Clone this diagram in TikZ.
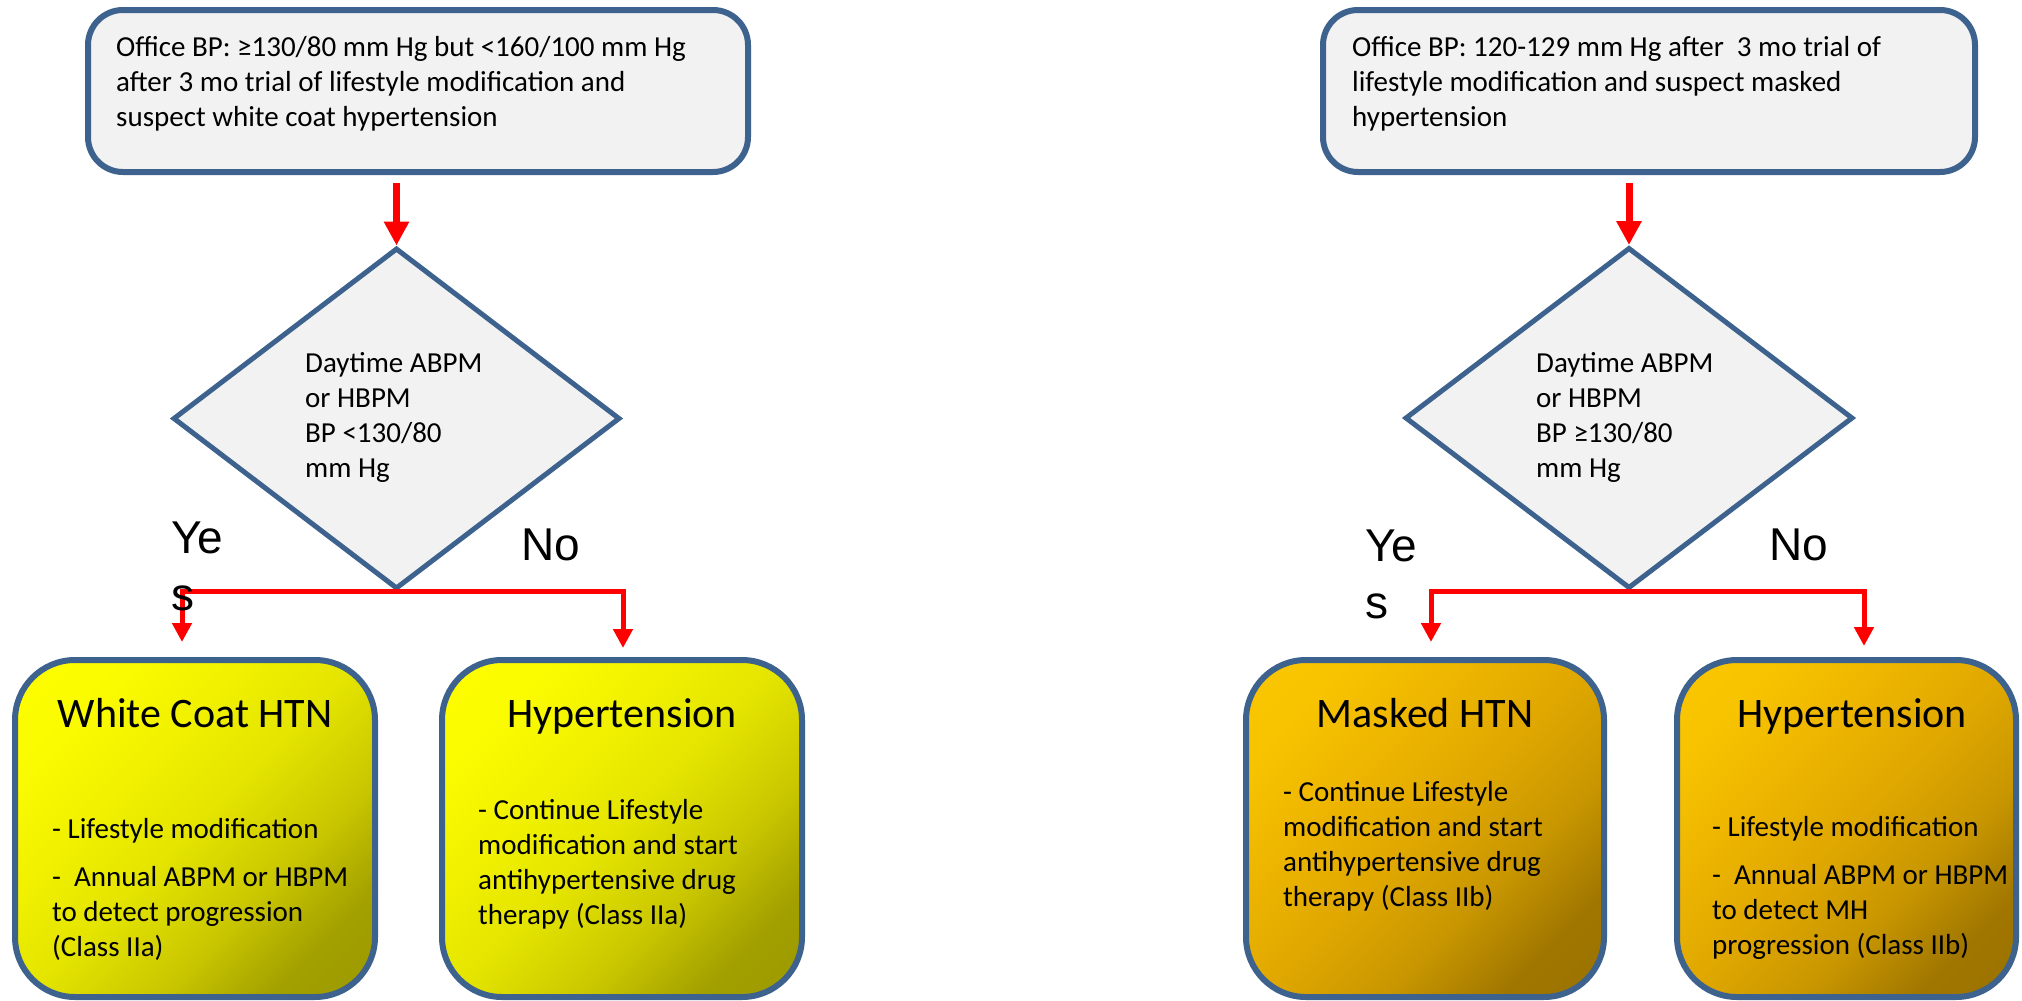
\documentclass[tikz,border=0pt]{standalone}
\usepackage{fontspec}
\setmainfont{Carlito}
\newfontfamily\labelfont{Liberation Sans}
\usetikzlibrary{shapes.geometric,arrows.meta}
\definecolor{edge}{HTML}{3E628E}
\definecolor{panel}{HTML}{F2F2F2}
\definecolor{arrowred}{HTML}{FF0000}
% diagonal fills of the outcome boxes (0bp = dark corner, 100bp = bright corner)
\pgfdeclareverticalshading{yellowgrad}{100bp}{%
  color(0bp)=(rgb,255:red,150;green,146;blue,0);
  color(25bp)=(rgb,255:red,162;green,159;blue,0);
  color(37bp)=(rgb,255:red,202;green,199;blue,0);
  color(50bp)=(rgb,255:red,228;green,228;blue,0);
  color(62bp)=(rgb,255:red,241;green,241;blue,0);
  color(75bp)=(rgb,255:red,252;green,252;blue,0);
  color(100bp)=(rgb,255:red,255;green,255;blue,0)}
\pgfdeclareverticalshading{goldgrad}{100bp}{%
  color(0bp)=(rgb,255:red,150;green,110;blue,0);
  color(25bp)=(rgb,255:red,160;green,118;blue,0);
  color(37bp)=(rgb,255:red,200;green,150;blue,0);
  color(50bp)=(rgb,255:red,224;green,168;blue,0);
  color(62bp)=(rgb,255:red,237;green,181;blue,0);
  color(75bp)=(rgb,255:red,248;green,196;blue,0);
  color(100bp)=(rgb,255:red,252;green,200;blue,0)}
\begin{document}
\begin{tikzpicture}[x=1pt,y=-1pt,
  bodytext/.style={font=\fontsize{29}{35}\selectfont, inner sep=0pt, anchor=base west, align=left},
  titletext/.style={font=\fontsize{42}{50}\selectfont, inner sep=0pt, anchor=base},
  branchlabel/.style={font=\labelfont\fontsize{46}{57}\selectfont, inner sep=0pt, anchor=base west, align=left},
  querybox/.style={draw=edge, line width=6pt, fill=panel, rounded corners=35pt, minimum height=162pt, inner sep=0pt},
  decision/.style={diamond, draw=edge, line width=5pt, fill=panel, inner sep=0pt, minimum width=447pt, minimum height=341pt},
  outcome/.style={draw=edge, line width=6pt, rounded corners=60pt, minimum height=337pt, inner sep=0pt},
  yellowfill/.style={shade, shading=yellowgrad, shading angle=45},
  goldfill/.style={shade, shading=goldgrad, shading angle=45},
  mainarrow/.style={draw=arrowred, line width=7pt, -{Triangle[width=24pt,length=24pt]}},
  brancharrow/.style={draw=arrowred, line width=5pt, -{Triangle[width=19pt,length=19pt]}},
]
\useasboundingbox (0,0) rectangle (2022,1001);

% multi-line text nodes are anchored at the baseline of their last line

% ---------- white coat branch (left) ----------
\node[querybox, minimum width=660pt] (ql) at (418,91) {};
\node[bodytext] (qlt) at (116,126) {Office BP: ≥130/80 mm Hg but <160/100 mm Hg\\after 3 mo trial of lifestyle modification and\\suspect white coat hypertension};

\node[decision] (dl) at (396.5,418.5) {};
\node[bodytext] (dlt) at (305,477) {Daytime ABPM\\or HBPM\\BP <130/80\\mm Hg};

\node[outcome, yellowfill, minimum width=360pt] (b1) at (195,828.5) {};
\node[outcome, yellowfill, minimum width=360pt] (b2) at (622,828.5) {};
\node[titletext] (t1) at (195,727) {White Coat HTN};
\node[titletext] (t2) at (622,727) {Hypertension};
\node[bodytext] (x1) at (52,956) {- Lifestyle modification\\[13pt]-~ Annual ABPM or HBPM\\to detect progression\\(Class IIa)};
\node[bodytext] (x2) at (478,924) {- Continue Lifestyle\\modification and start\\antihypertensive drug\\therapy (Class IIa)};

\coordinate (l-yes) at (182,642);
\coordinate (l-no) at (623,648);
\draw[mainarrow, shorten <=8pt] (dl.north |- ql.south) -- (dl.north);
\draw[brancharrow] (dl.south) -| (l-yes);
\draw[brancharrow] (dl.south) -| (l-no);

\node[branchlabel] (yl) at (171,610) {Ye\\s};
\node[branchlabel] (nl) at (521,560) {No};

% ---------- masked branch (right) ----------
\node[querybox, minimum width=652pt] (qr) at (1649,91) {};
\node[bodytext] (qrt) at (1352,126) {Office BP: 120-129 mm Hg after~ 3 mo trial of\\lifestyle modification and suspect masked\\hypertension};

\node[decision, minimum width=448pt] (dr) at (1629,418) {};
\node[bodytext] (drt) at (1536,477) {Daytime ABPM\\or HBPM\\BP ≥130/80\\mm Hg};

\node[outcome, goldfill, minimum width=358pt] (b3) at (1425,828.5) {};
\node[outcome, goldfill, minimum width=339pt] (b4) at (1846.5,828.5) {};
\node[titletext] (t3) at (1425,727) {Masked HTN};
\node[titletext] (t4) at (1852,727) {Hypertension};
\node[bodytext] (x3) at (1283,906) {- Continue Lifestyle\\modification and start\\antihypertensive drug\\therapy (Class IIb)};
\node[bodytext] (x4) at (1712,954) {- Lifestyle modification\\[13pt]-~ Annual ABPM or HBPM\\to detect MH\\progression (Class IIb)};

\coordinate (r-yes) at (1431,642);
\coordinate (r-no) at (1864,646);
\draw[mainarrow, shorten <=8pt] (dr.north |- qr.south) -- (dr.north);
\draw[brancharrow] (dr.south) -| (r-yes);
\draw[brancharrow] (dr.south) -| (r-no);

\node[branchlabel] (yr) at (1365,618) {Ye\\s};
\node[branchlabel] (nr) at (1769,560) {No};
\end{tikzpicture}
\end{document}
